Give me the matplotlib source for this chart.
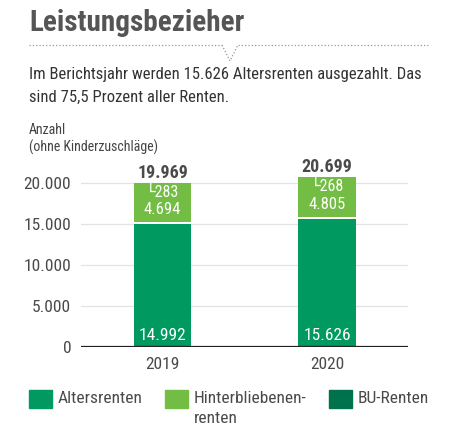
import matplotlib.pyplot as plt
from matplotlib.patches import Rectangle
from matplotlib.lines import Line2D

plt.rcParams['font.family'] = ['Roboto Condensed', 'DejaVu Sans']

years = ['2019', '2020']
alters = [14992, 15626]
bu = [283, 268]
hinter = [4694, 4805]
totals = [19969, 20699]

alters_lbl = ['14.992', '15.626']
bu_lbl = ['\u2514283', '\u2514268']
hinter_lbl = ['4.694', '4.805']
total_lbl = ['19.969', '20.699']
yticks = [0, 5000, 10000, 15000, 20000]
ytick_lbl = ['0', '5.000', '10.000', '15.000', '20.000']

c_alters = '#00995f'
c_hinter = '#74bd45'
c_bu = '#00714d'
c_text = '#4a4a4a'

W, H = 451, 436
fig = plt.figure(figsize=(W / 100, H / 100), dpi=100)


def px(x, y):
    return x / W, 1 - y / H


# axes placement in pixels
left, right, y0 = 81, 408, 347
ymax = 22000
ax = fig.add_axes([left / W, (H - y0) / H, (right - left) / W, (164 * ymax / 20000) / H])
ax.set_xlim(-0.495, 1.49)
ax.set_ylim(0, ymax)

xs = [0, 1]
bw = 0.35
ax.bar(xs, alters, bw, color=c_alters, zorder=3)
ax.bar(xs, bu, bw, bottom=alters, color='white', zorder=3)
hb = [a + b for a, b in zip(alters, bu)]
ax.bar(xs, hinter, bw, bottom=hb, color=c_hinter, zorder=3)

for y in yticks[1:]:
    ax.axhline(y, color='#e3e3e3', lw=0.9, zorder=1)
ax.axhline(0, color='#222222', lw=1.6, zorder=4)

for s in ax.spines.values():
    s.set_visible(False)
ax.set_yticks(yticks)
ax.set_yticklabels(ytick_lbl)
ax.set_xticks(xs)
ax.set_xticklabels(years)
ax.tick_params(length=0, labelsize=12.5, colors=c_text, pad=7)

for i in range(2):
    ax.text(xs[i], totals[i] + 200, total_lbl[i], ha='center', va='bottom',
            fontsize=13, fontweight='bold', color=c_text)
    ax.text(xs[i], totals[i] - 200, bu_lbl[i], ha='center', va='top',
            fontsize=11.5, color='white', zorder=5)
    ax.text(xs[i], hb[i] + 550, hinter_lbl[i], ha='center', va='bottom',
            fontsize=12, color='white', zorder=5)
    ax.text(xs[i], 500, alters_lbl[i], ha='center', va='bottom',
            fontsize=12.5, color='white', zorder=5)

# title and header
fig.text(*px(29, 23), 'Leistungsbezieher', fontsize=21, fontweight='bold',
         color='#555555', va='center', ha='left')
line_y = 45
fig.add_artist(Line2D([29 / W, 222 / W], [1 - line_y / H] * 2, ls=':', lw=0.9, color='#999999'))
fig.add_artist(Line2D([238 / W, 428 / W], [1 - line_y / H] * 2, ls=':', lw=0.9, color='#999999'))
fig.add_artist(Line2D([222 / W, 230 / W, 238 / W],
                      [1 - line_y / H, 1 - 61 / H, 1 - line_y / H], ls=':', lw=0.9, color='#999999'))

fig.text(*px(29, 74), 'Im Berichtsjahr werden 15.626 Altersrenten ausgezahlt. Das',
         fontsize=12, color='#333333', va='center')
fig.text(*px(29, 97), 'sind 75,5 Prozent aller Renten.',
         fontsize=12, color='#333333', va='center')
fig.text(*px(29, 130), 'Anzahl', fontsize=10, color='#444444', va='center')
fig.text(*px(29, 147), '(ohne Kinderzuschläge)', fontsize=10, color='#444444', va='center')

# legend
legend = [(29, c_alters, 'Altersrenten'),
          (165, c_hinter, 'Hinterbliebenen-\nrenten'),
          (329, c_bu, 'BU-Renten')]
for x, c, t in legend:
    fig.add_artist(Rectangle(px(x, 408), 23 / W, 18 / H, color=c))
    fig.text(*px(x + 29, 391), t, fontsize=12.5, color=c_text, va='top',
             linespacing=1.4)

fig.savefig('out.png', dpi=100)
